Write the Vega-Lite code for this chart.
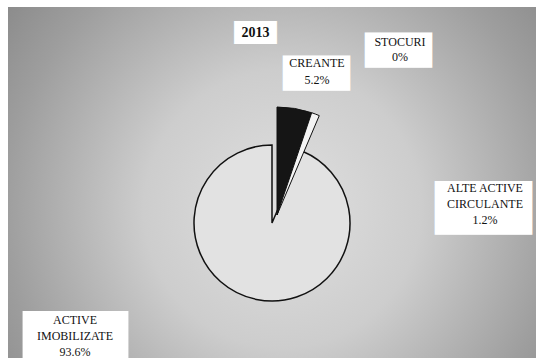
{
  "$schema": "https://vega.github.io/schema/vega-lite/v6.json",
  "width": 528,
  "height": 351,
  "autosize": {"type": "none"},
  "padding": {"left": 8, "top": 7, "right": 0, "bottom": 0},
  "background": "white",
  "config": {"view": {"stroke": null}, "mark": {"font": "Liberation Serif"}, "text": {"font": "Liberation Serif"}},
  "datasets": {
    "slices": [
      {"cat": "CREANTE", "label": "CREANTE\n5.2%", "value": 5.2, "order": 1},
      {"cat": "STOCURI", "label": "STOCURI\n0%", "value": 0, "order": 2},
      {"cat": "ALTE ACTIVE CIRCULANTE", "label": "ALTE ACTIVE\nCIRCULANTE\n1.2%", "value": 1.2, "order": 3},
      {"cat": "ACTIVE IMOBILIZATE", "label": "ACTIVE\nIMOBILIZATE\n93.6%", "value": 93.6, "order": 4}
    ],
    "title": [{"t": "2013"}],
    "bg": [{"k": 1}]
  },
  "data": {"name": "slices"},
  "layer": [
    {
      "data": {"name": "bg"},
      "mark": {
        "type": "rect",
        "fill": {
          "gradient": "radial",
          "x1": 0.52, "y1": 0.55, "r1": 0,
          "x2": 0.52, "y2": 0.55, "r2": 0.75,
          "stops": [
            {"offset": 0, "color": "#e0e0e0"},
            {"offset": 0.35, "color": "#cdcdcd"},
            {"offset": 0.7, "color": "#9e9e9e"},
            {"offset": 1, "color": "#7c7c7c"}
          ]
        }
      },
      "encoding": {
        "x": {"value": 0}, "x2": {"value": "width"},
        "y": {"value": 0}, "y2": {"value": "height"}
      }
    },
    {
      "transform": [
        {"stack": "value", "groupby": [], "sort": [{"field": "order", "order": "ascending"}], "as": ["v0", "v1"]},
        {"filter": "datum.order == 4"}
      ],
      "mark": {"type": "arc", "radius": 78, "fill": "#e2e2e2", "stroke": "#111111", "strokeWidth": 1.5, "yOffset": 40.5},
      "encoding": {
        "theta": {"field": "v0", "type": "quantitative", "scale": {"domain": [0, 100]}},
        "theta2": {"field": "v1"}
      }
    },
    {
      "transform": [
        {"stack": "value", "groupby": [], "sort": [{"field": "order", "order": "ascending"}], "as": ["v0", "v1"]},
        {"filter": "datum.order < 4 && datum.value > 0"}
      ],
      "mark": {"type": "arc", "radius": 108, "stroke": "#111111", "strokeWidth": 1, "xOffset": 5, "yOffset": 32.5},
      "encoding": {
        "theta": {"field": "v0", "type": "quantitative", "scale": {"domain": [0, 100]}},
        "theta2": {"field": "v1"},
        "fill": {"field": "cat", "type": "nominal", "scale": {"domain": ["CREANTE", "ALTE ACTIVE CIRCULANTE"], "range": ["#151515", "#f4f4f4"]}, "legend": null}
      }
    },
    {
      "data": {"name": "title"},
      "mark": {"type": "text", "text": "—", "font": "Liberation Serif", "fontSize": 20.5, "fill": "white", "stroke": "white", "strokeWidth": 22, "strokeJoin": "miter", "align": "center", "baseline": "middle", "dx": -16.5, "dy": -151},
      "encoding": {}
    },
    {
      "transform": [{"filter": "datum.cat == 'CREANTE'"}],
      "mark": {"type": "text", "text": "—", "font": "Liberation Serif", "fontSize": 33.5, "fill": "white", "stroke": "white", "strokeWidth": 33.5, "strokeJoin": "miter", "align": "center", "baseline": "middle", "dx": 44.5, "dy": -112},
      "encoding": {}
    },
    {
      "transform": [{"filter": "datum.cat == 'STOCURI'"}],
      "mark": {"type": "text", "text": "—", "font": "Liberation Serif", "fontSize": 33.5, "fill": "white", "stroke": "white", "strokeWidth": 33.5, "strokeJoin": "miter", "align": "center", "baseline": "middle", "dx": 126.5, "dy": -135},
      "encoding": {}
    },
    {
      "transform": [{"filter": "datum.cat == 'ALTE ACTIVE CIRCULANTE'"}],
      "mark": {"type": "text", "text": "—", "font": "Liberation Serif", "fontSize": 45.5, "fill": "white", "stroke": "white", "strokeWidth": 51.5, "strokeJoin": "miter", "align": "center", "baseline": "middle", "dx": 211.5, "dy": 22.5},
      "encoding": {}
    },
    {
      "transform": [{"filter": "datum.cat == 'ACTIVE IMOBILIZATE'"}],
      "mark": {"type": "text", "text": "—", "font": "Liberation Serif", "fontSize": 52.5, "fill": "white", "stroke": "white", "strokeWidth": 52.5, "strokeJoin": "miter", "align": "center", "baseline": "middle", "dx": -196.5, "dy": 152},
      "encoding": {}
    },
    {
      "data": {"name": "title"},
      "mark": {"type": "text", "font": "Liberation Serif", "fontSize": 14, "fontWeight": "bold", "color": "#111111", "align": "center", "baseline": "middle", "dx": -16.5, "dy": -149.5},
      "encoding": {"text": {"field": "t"}}
    },
    {
      "transform": [{"filter": "datum.cat == 'CREANTE'"}],
      "mark": {"type": "text", "font": "Liberation Serif", "fontSize": 12, "color": "#111111", "align": "center", "baseline": "middle", "lineBreak": "\n", "lineHeight": 17, "dx": 45, "dy": -119.5},
      "encoding": {"text": {"field": "label"}}
    },
    {
      "transform": [{"filter": "datum.cat == 'STOCURI'"}],
      "mark": {"type": "text", "font": "Liberation Serif", "fontSize": 12, "color": "#111111", "align": "center", "baseline": "middle", "lineBreak": "\n", "lineHeight": 15, "dx": 128, "dy": -140.5},
      "encoding": {"text": {"field": "label"}}
    },
    {
      "transform": [{"filter": "datum.cat == 'ALTE ACTIVE CIRCULANTE'"}],
      "mark": {"type": "text", "font": "Liberation Serif", "fontSize": 12, "color": "#111111", "align": "center", "baseline": "middle", "lineBreak": "\n", "lineHeight": 16, "dx": 213, "dy": 5.5},
      "encoding": {"text": {"field": "label"}}
    },
    {
      "transform": [{"filter": "datum.cat == 'ACTIVE IMOBILIZATE'"}],
      "mark": {"type": "text", "font": "Liberation Serif", "fontSize": 12, "color": "#111111", "align": "center", "baseline": "middle", "lineBreak": "\n", "lineHeight": 16, "dx": -197, "dy": 137.5},
      "encoding": {"text": {"field": "label"}}
    }
  ]
}
